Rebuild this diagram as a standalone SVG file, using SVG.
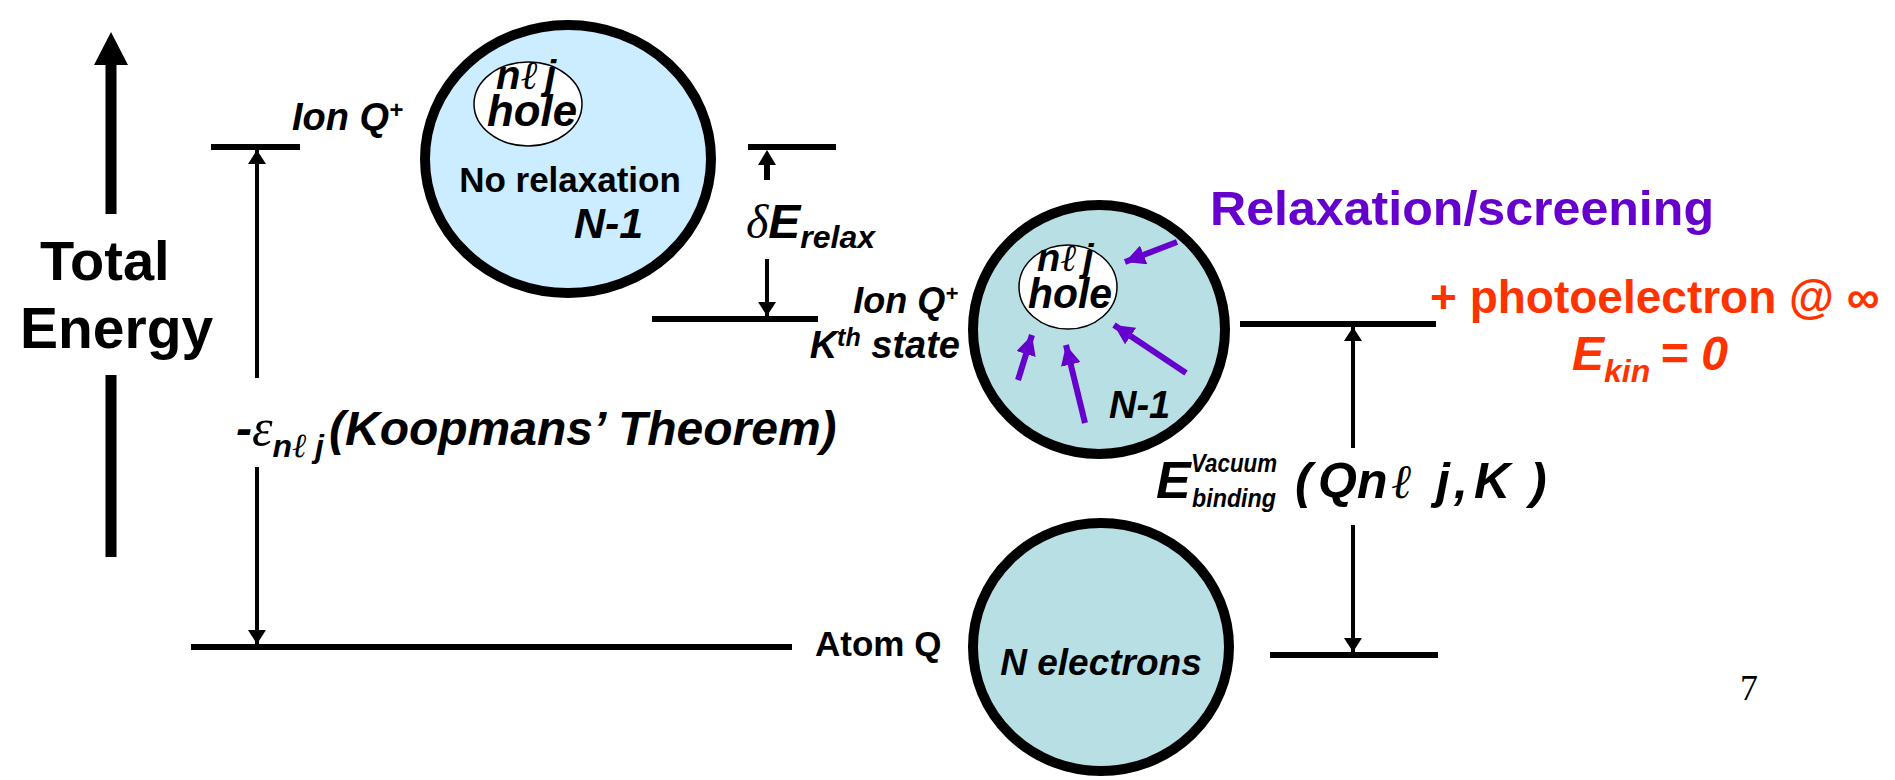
<svg xmlns="http://www.w3.org/2000/svg" width="1895" height="780" viewBox="0 0 1895 780">
<style>
.b{font-family:"Liberation Sans",Arial,sans-serif;font-weight:bold;fill:#000}
.bi{font-family:"Liberation Sans",Arial,sans-serif;font-weight:bold;font-style:italic;fill:#000}
.sr{font-family:"Liberation Serif","Times New Roman",serif;font-style:italic;font-weight:normal}
.lvl{stroke:#000;stroke-width:6;fill:none}
.arr{stroke:#000;stroke-width:4;fill:none;marker-end:url(#ah)}
.parr{stroke:#6600CC;stroke-width:6;fill:none;marker-end:url(#ph)}
.big{stroke:#000;stroke-width:10}
.hole{fill:#fff;stroke:#000;stroke-width:1.5}
</style>
<defs>
<marker id="ah" viewBox="0 0 14 18" markerWidth="14" markerHeight="18" refX="14" refY="9" orient="auto" markerUnits="userSpaceOnUse"><path d="M0,0 L14,9 L0,18 z" fill="#000"/></marker>
<marker id="ph" viewBox="0 0 20 20" markerWidth="20" markerHeight="20" refX="20" refY="10" orient="auto" markerUnits="userSpaceOnUse"><path d="M0,0 L20,10 L0,20 z" fill="#6600CC"/></marker>
</defs>
<rect width="1895" height="780" fill="#fff"/>

<g id="total-energy">
<path d="M111,32 L128,65 L116.5,65 L116.5,214 L105.5,214 L105.5,65 L94,65 z" fill="#000"/>
<rect x="105.5" y="375" width="11" height="182" fill="#000"/>
<text class="b" x="40" y="280" font-size="56">Total</text>
<text class="b" x="20" y="348" font-size="57">Energy</text>
</g>

<g id="ion-no-relax">
<ellipse cx="568" cy="159" rx="143" ry="134" fill="#CCECFF" class="big"/>
<ellipse cx="528" cy="104" rx="54" ry="42" class="hole"/>
<text class="bi" x="496" y="89" font-size="40">n<tspan class="sr" font-size="40">ℓ</tspan><tspan dx="8">j</tspan></text>
<text class="bi" x="487" y="126" font-size="44" textLength="90" lengthAdjust="spacingAndGlyphs">hole</text>
<text class="b" x="570" y="192" font-size="35" text-anchor="middle">No relaxation</text>
<text class="bi" x="574" y="238" font-size="43">N-1</text>
</g>

<g id="ion-relaxed">
<ellipse cx="1099" cy="329.5" rx="126" ry="124.5" fill="#B8E0E4" class="big"/>
<ellipse cx="1068" cy="287" rx="49" ry="42" class="hole"/>
<text class="bi" x="1037" y="271" font-size="38">n<tspan class="sr" font-size="38">ℓ</tspan><tspan dx="7">j</tspan></text>
<text class="bi" x="1028" y="308" font-size="42" textLength="84" lengthAdjust="spacingAndGlyphs">hole</text>
<text class="bi" x="1109" y="418" font-size="38">N-1</text>
<path class="parr" d="M1177,242 L1125,262"/>
<path class="parr" d="M1186,373 L1114,325"/>
<path class="parr" d="M1085,423 L1066,345"/>
<path class="parr" d="M1018,380 L1032,335"/>
</g>

<g id="atom">
<ellipse cx="1101" cy="647" rx="128" ry="124" fill="#B8E0E4" class="big"/>
<text class="bi" x="1101" y="675" font-size="37" text-anchor="middle">N electrons</text>
</g>

<g id="levels">
<line class="lvl" x1="211" y1="147" x2="300" y2="147"/>
<line class="lvl" x1="748" y1="147" x2="836" y2="147"/>
<line class="lvl" x1="652" y1="319" x2="818" y2="319"/>
<line class="lvl" x1="1240" y1="324" x2="1436" y2="324"/>
<line class="lvl" x1="191" y1="647" x2="792" y2="647"/>
<line class="lvl" x1="1270" y1="655" x2="1438" y2="655"/>
</g>

<g id="connectors">
<line class="arr" x1="257" y1="378" x2="257" y2="150"/>
<line class="arr" x1="257" y1="467" x2="257" y2="644"/>
<line stroke="#000" stroke-width="6" x1="767" y1="180" x2="767" y2="162"/>
<path d="M767,150 L776,165 L758,165 z" fill="#000"/>
<line class="arr" x1="767" y1="259" x2="767" y2="316"/>
<line class="arr" x1="1353" y1="448" x2="1353" y2="327"/>
<line class="arr" x1="1353" y1="525" x2="1353" y2="652"/>
</g>

<g id="labels">
<text class="bi" x="292" y="130" font-size="38">Ion Q<tspan font-size="24" dy="-12">+</tspan></text>
<text class="bi" x="236" y="445" font-size="48">-<tspan class="sr" font-size="52">ε</tspan><tspan font-size="32" dy="12">n<tspan class="sr" font-size="34">ℓ</tspan> j</tspan><tspan x="329" dy="-12">(Koopmans’ Theorem)</tspan></text>
<text class="bi" x="746" y="238" font-size="48"><tspan class="sr">δ</tspan>E<tspan font-size="32" dy="10">relax</tspan></text>
<text class="bi" x="958" y="313" font-size="36" text-anchor="end">Ion Q<tspan font-size="22" dy="-12">+</tspan></text>
<text class="bi" x="960" y="358" font-size="38" text-anchor="end">K<tspan font-size="25" dy="-12">th</tspan><tspan dy="12"> state</tspan></text>
<text class="b" x="815" y="656" font-size="35">Atom Q</text>
<text class="b" x="1210" y="225" font-size="48" style="fill:#6600CC" textLength="504" lengthAdjust="spacingAndGlyphs">Relaxation/screening</text>
<text class="b" x="1430" y="313" font-size="46" style="fill:#FF3300">+ photoelectron @ ∞</text>
<text class="bi" x="1572" y="370" font-size="48" style="fill:#FF3300">E<tspan font-size="32" dy="12">kin</tspan><tspan x="1660" dy="-12">= 0</tspan></text>
<rect x="1153" y="451" width="410" height="74" fill="#fff"/>
<text class="bi" x="1156" y="498" font-size="52">E</text>
<text class="bi" x="1191" y="472" font-size="26" textLength="86" lengthAdjust="spacingAndGlyphs">Vacuum</text>
<text class="bi" x="1192" y="507" font-size="26" textLength="84" lengthAdjust="spacingAndGlyphs">binding</text>
<text class="bi" y="498" font-size="50"><tspan x="1295">(</tspan><tspan x="1318">Qn</tspan><tspan class="sr" x="1391" font-size="48">ℓ</tspan><tspan x="1436">j</tspan><tspan x="1454">,</tspan><tspan x="1474">K</tspan><tspan x="1530">)</tspan></text>
<text x="1740" y="700" font-size="36" style="font-family:'Liberation Serif','Times New Roman',serif">7</text>
</g>
</svg>
